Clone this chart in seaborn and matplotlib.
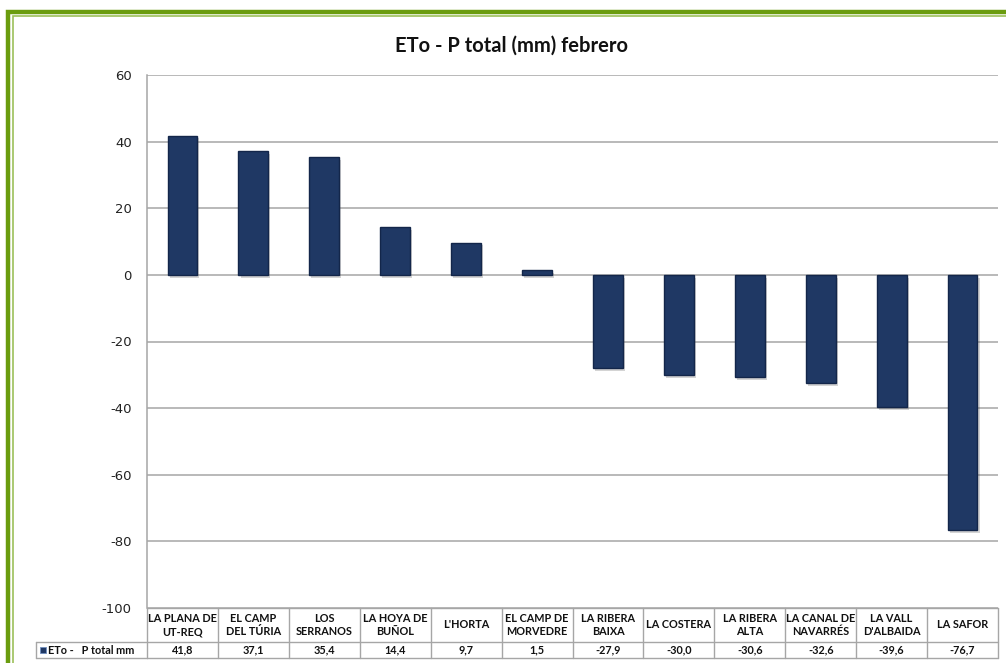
import matplotlib
matplotlib.use("Agg")
import matplotlib.pyplot as plt
import matplotlib.patheffects as pe
import matplotlib.transforms as mtransforms
from matplotlib.patches import Rectangle
import seaborn as sns

# data
regions = ["LA PLANA DE\nUT-REQ", "EL CAMP\nDEL TÚRIA", "LOS\nSERRANOS", "LA HOYA DE\nBUÑOL",
           "L'HORTA", "EL CAMP DE\nMORVEDRE", "LA RIBERA\nBAIXA", "LA COSTERA",
           "LA RIBERA\nALTA", "LA CANAL DE\nNAVARRÉS", "LA VALL\nD'ALBAIDA", "LA SAFOR"]
eto_p = [41.8, 37.1, 35.4, 14.4, 9.7, 1.5, -27.9, -30.0, -30.6, -32.6, -39.6, -76.7]
series_name = "ETo -   P total mm"
title = "ETo - P total (mm) febrero"
yticks = [-100, -80, -60, -40, -20, 0, 20, 40, 60]

navy = "#1f3864"
grid_grey = "#a6a6a6"

sns.set_style("white")
plt.rcParams['font.family'] = ['DejaVu Sans']

W, H = 1006, 663
fig = plt.figure(figsize=(W / 100, H / 100), dpi=100)

# green double frame (runs past right / bottom edge)
fig.patches.append(Rectangle((8 / W, -0.1), 1.2, 1 - 11.5 / H + 0.1, transform=fig.transFigure,
                             fill=False, edgecolor="#6a9c0e", linewidth=3.2))
fig.patches.append(Rectangle((13 / W, -0.1), 1.2, 1 - 16 / H + 0.1, transform=fig.transFigure,
                             fill=False, edgecolor="#9cc05a", linewidth=1.2))

ax = fig.add_axes([147 / W, 1 - 608 / H, (998 - 147) / W, (608 - 75) / H])

sns.barplot(x=regions, y=eto_p, color=navy, width=0.42, ax=ax, saturation=1)
for bar in ax.patches:
    bar.set_edgecolor("#13264a")
    bar.set_linewidth(1.0)
    bar.set_path_effects([pe.SimplePatchShadow(offset=(1.5, -2), alpha=0.25, shadow_rgbFace="#555555"),
                          pe.Normal()])

ax.set_ylim(-100, 60)
ax.set_yticks(yticks)
ax.set_yticklabels([str(t) for t in yticks], fontsize=9.5, color="#222222")
ax.tick_params(axis='y', length=0, pad=11)
ax.set_xticks([])
ax.set_xlim(-0.5, len(regions) - 0.5)
ax.set_xlabel("")
ax.set_ylabel("")
ax.yaxis.grid(True, color=grid_grey, linewidth=1.1)
ax.set_axisbelow(True)
for s in ["top", "right", "bottom"]:
    ax.spines[s].set_visible(False)
ax.spines["left"].set_color(grid_grey)
ax.spines["left"].set_linewidth(1.1)

# data table under the plot: x follows the bar positions, y in axes units
ax_w, ax_h = 998 - 147, 608 - 75
trans = mtransforms.blended_transform_factory(ax.transData, ax.transAxes)
y_mid = -34 / ax_h
y_bot = -50 / ax_h
n = len(regions)
line_kw = dict(color=grid_grey, linewidth=1.0, clip_on=False)
label_left = (36 - 147) / ax_w

ax.plot([-0.5, n - 0.5], [0, 0], transform=trans, **line_kw)
ax.plot([-0.5, n - 0.5], [y_mid, y_mid], transform=trans, **line_kw)
ax.plot([-0.5, n - 0.5], [y_bot, y_bot], transform=trans, **line_kw)
for i in range(n + 1):
    ax.plot([i - 0.5, i - 0.5], [0, y_bot], transform=trans, **line_kw)
ax.plot([label_left, 0], [y_mid, y_mid], transform=ax.transAxes, **line_kw)
ax.plot([label_left, 0], [y_bot, y_bot], transform=ax.transAxes, **line_kw)
ax.plot([label_left, label_left], [y_mid, y_bot], transform=ax.transAxes, **line_kw)

txt_kw = dict(fontsize=7.8, fontweight="bold", family=['Lato', 'DejaVu Sans'], color="#111111",
              ha="center", va="center", clip_on=False)
for i, (name, v) in enumerate(zip(regions, eto_p)):
    ax.text(i, y_mid / 2, name, transform=trans, linespacing=1.3, **txt_kw)
    ax.text(i, (y_mid + y_bot) / 2, f"{v:.1f}".replace(".", ","), transform=trans, **txt_kw)
ax.text((48 - 147) / ax_w, (y_mid + y_bot) / 2, series_name, transform=ax.transAxes,
        **{**txt_kw, "ha": "left"})

# legend key in the row-label cell
fig.patches.append(Rectangle((40 / W, 1 - 653 / H), 6 / W, 6 / H, transform=fig.transFigure,
                             facecolor=navy, edgecolor="#6f8fbf", linewidth=0.6))

fig.text(512 / W, 1 - 46 / H, title, ha="center", va="center", fontsize=14.5,
         fontweight="bold", family=['Lato', 'DejaVu Sans'], color="#111111")

fig.savefig("out.png", dpi=100)
